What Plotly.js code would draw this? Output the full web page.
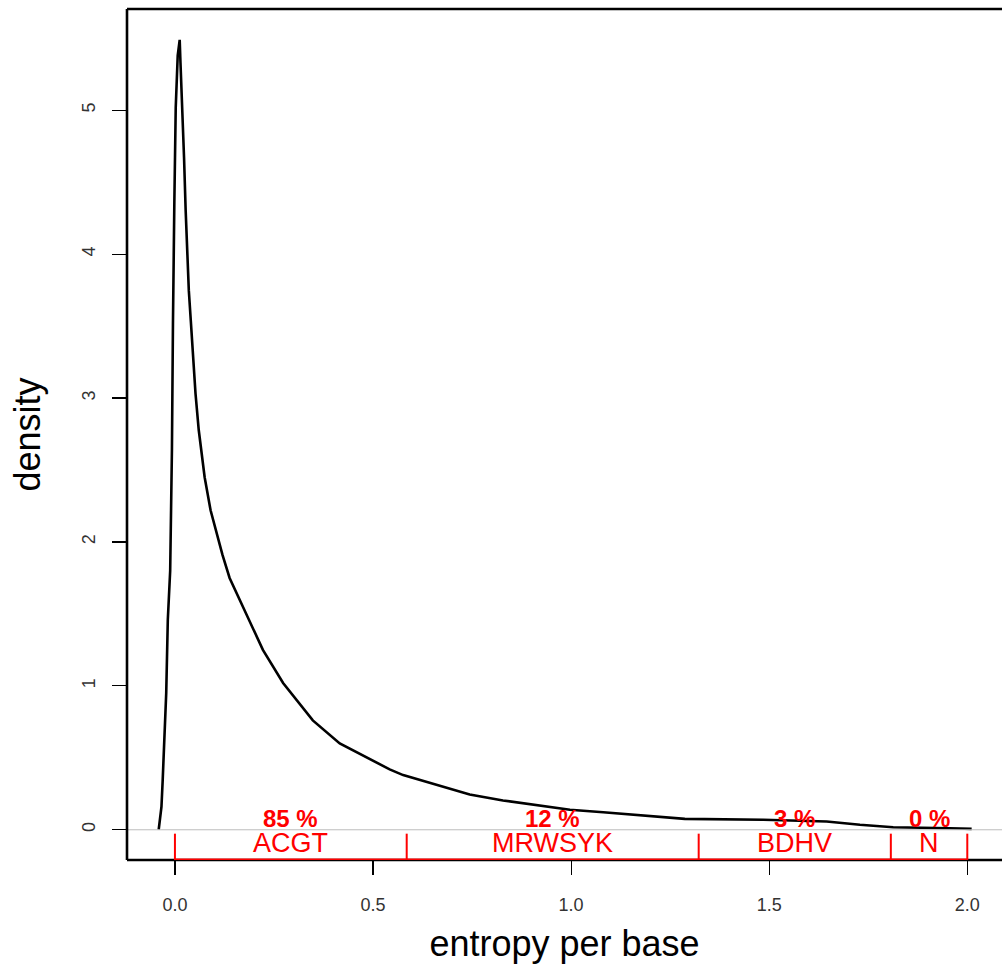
<!DOCTYPE html>
<html>
<head>
<meta charset="utf-8">
<script src="https://cdn.plot.ly/plotly-3.0.1.min.js"></script>
<style>html,body{margin:0;padding:0;background:#fff;overflow:hidden}</style>
</head>
<body>
<div id="chart" style="width:1002px;height:975px"></div>
<script>
// entropy-per-base density curve
const entropyX = [-0.041,-0.038,-0.034,-0.031,-0.026,-0.022,-0.018,-0.012,-0.0076,-0.006,-0.005,-0.0015,0.002,0.007,0.012,0.014,0.019,0.023,0.027,0.031,0.035,0.040,0.045,0.052,0.060,0.075,0.09,0.105,0.12,0.138,0.163,0.222,0.273,0.348,0.416,0.483,0.542,0.576,0.66,0.744,0.828,0.913,0.997,1.081,1.165,1.249,1.287,1.485,1.645,1.729,1.813,1.956,2.011];
const densityY = [0.0,0.08,0.16,0.34,0.66,0.95,1.46,1.80,2.64,2.98,3.52,4.36,5.02,5.38,5.49,5.33,5.02,4.67,4.31,4.01,3.75,3.54,3.33,3.03,2.78,2.45,2.22,2.06,1.91,1.75,1.60,1.25,1.02,0.76,0.60,0.505,0.42,0.38,0.31,0.245,0.204,0.169,0.139,0.122,0.104,0.088,0.076,0.070,0.058,0.035,0.018,0.011,0.006];

// class boundaries on the entropy axis
const classBounds = [0, 0.585, 1.322, 1.807, 2.0];
const classLabels = ["ACGT", "MRWSYK", "BDHV", "N"];
const classPercents = ["85 %", "12 %", "3 %", "0 %"];

const xTickVals = [0, 0.5, 1, 1.5, 2];
const xTickText = ["0.0", "0.5", "1.0", "1.5", "2.0"];
const yTickVals = [0, 1, 2, 3, 4, 5];
const yTickText = ["0", "1", "2", "3", "4", "5"];

const FONT = "Liberation Sans, Arial, Helvetica, sans-serif";
const RED = "#ff0000";
const yBottom = -0.21, yTop = 5.704;

const shapes = [];
// grey zero line
shapes.push({type:"line", xref:"paper", yref:"y", x0:0, x1:1, y0:0, y1:0, line:{color:"#bdbdbd", width:1}});
// plot border (left, top, bottom)
shapes.push({type:"line", xref:"paper", yref:"paper", x0:0, x1:0, y0:0, y1:1, line:{color:"#000", width:2.6}});
shapes.push({type:"line", xref:"paper", yref:"paper", x0:0, x1:1, y0:1, y1:1, line:{color:"#000", width:2.6}});
shapes.push({type:"line", xref:"paper", yref:"paper", x0:0, x1:1, y0:0, y1:0, line:{color:"#000", width:2.6}});
// red class scale
shapes.push({type:"line", xref:"x", yref:"y", x0:classBounds[0], x1:classBounds[classBounds.length-1], y0:yBottom, y1:yBottom, line:{color:RED, width:2.8}});
classBounds.forEach(b => {
  shapes.push({type:"line", xref:"x", yref:"y", x0:b, x1:b, y0:-0.027, y1:yBottom, line:{color:RED, width:2}});
});

const annotations = [];
for (let i = 0; i < classLabels.length; i++) {
  const mid = (classBounds[i] + classBounds[i+1]) / 2;
  annotations.push({x:mid, y:0.075, xref:"x", yref:"y", text:"<b>"+classPercents[i]+"</b>", showarrow:false,
    font:{family:FONT, size:24, color:RED}, xanchor:"center", yanchor:"middle", borderpad:0});
  annotations.push({x:mid, y:-0.095, xref:"x", yref:"y", text:classLabels[i], showarrow:false,
    font:{family:FONT, size:27, color:RED}, xanchor:"center", yanchor:"middle", borderpad:0});
}

const trace = {x:entropyX, y:densityY, type:"scatter", mode:"lines",
  line:{color:"#000", width:2.6, shape:"linear"}, hoverinfo:"skip", showlegend:false};

const layout = {
  width:1002, height:975,
  margin:{l:127, r:0, t:9, b:115},
  paper_bgcolor:"#fff", plot_bgcolor:"#fff",
  showlegend:false,
  xaxis:{range:[-0.121, 2.0876], tickvals:xTickVals, ticktext:xTickText, ticks:"outside", ticklen:14, tickwidth:1.2, tickcolor:"#000",
    showgrid:false, zeroline:false, showline:false, ticklabelstandoff:14,
    tickfont:{family:FONT, size:18, color:"#333"},
    title:{text:"entropy per base", font:{family:FONT, size:36, color:"#000"}, standoff:17}},
  yaxis:{range:[yBottom, yTop], tickvals:yTickVals, ticktext:yTickText, ticks:"outside", ticklen:14, tickwidth:1.2, tickcolor:"#000",
    showgrid:false, zeroline:false, showline:false, tickangle:-90, ticklabelstandoff:10,
    tickfont:{family:FONT, size:18, color:"#333"},
    title:{text:"density", font:{family:FONT, size:36, color:"#000"}, standoff:27}},
  shapes:shapes,
  annotations:annotations
};

Plotly.newPlot("chart", [trace], layout, {displayModeBar:false, staticPlot:true});
</script>
</body>
</html>
